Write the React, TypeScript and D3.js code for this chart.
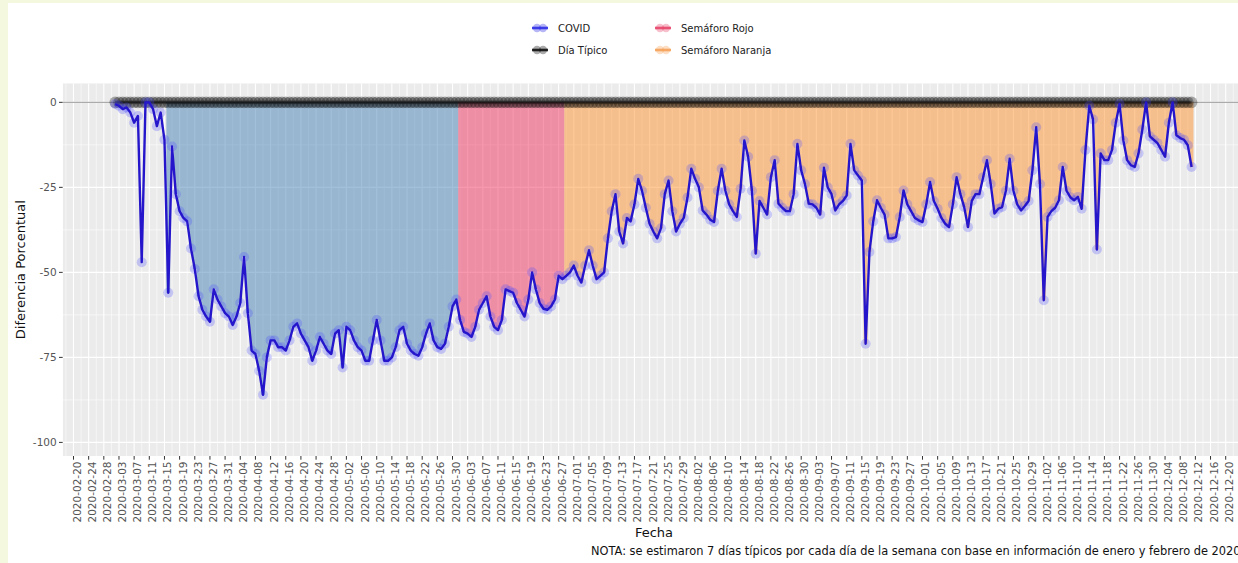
import React from "react";
import * as d3 from "d3";

// ---------- data ----------
const firstDay = "2020-03-02";
// Diferencia porcentual vs. día típico, one value per day from 2020-03-02 to 2020-12-11
const covidValues = [
  -0.5, -1, -2, -1.5, -3, -6, -4, -47, 0, 0,
  -2, -7, -3, -11, -56, -13, -27, -32, -34, -35,
  -43, -49, -57, -61, -63, -64.5, -55, -58, -60, -62,
  -63, -65.5, -63, -59, -45.5, -62, -73, -74, -79, -86,
  -75, -70, -70, -72, -72, -73, -70, -66, -65, -68,
  -70, -72, -76, -73, -69, -71, -73, -74, -68, -67,
  -78, -66, -67, -70, -72, -73, -76, -76, -70, -64,
  -70, -76, -76, -75, -72, -67, -66, -71, -73, -74,
  -74.5, -72, -68, -65, -70, -72, -72.5, -71, -66, -60,
  -58, -64, -67.5, -68, -69, -66, -61, -59, -57, -63,
  -66, -67, -64, -55, -55.5, -56, -59, -61, -63, -58,
  -50, -55, -59, -60.7, -61, -60, -58, -51, -52, -51,
  -50, -48, -51, -53, -48, -43.5, -48, -52, -51, -50,
  -40, -32, -27, -38, -41.5, -34, -35, -30, -22.5, -26,
  -31, -35.7, -38, -40, -37, -27, -23, -32, -38, -35.7,
  -34, -28, -19.5, -22.5, -25, -31.8, -33, -34.5, -35.2, -26,
  -19.5, -26, -30, -32, -33.7, -25.4, -11.2, -16, -26, -44.5,
  -29, -31, -33, -22, -17, -29.8, -31, -32, -32, -27,
  -12.2, -20, -24, -29.8, -30, -31, -33, -19.2, -25, -27,
  -31.8, -30, -29, -27.4, -12.2, -20, -21.5, -23, -71, -44,
  -35, -28.8, -31, -33, -40, -40, -39.6, -33.7, -25.9, -30,
  -32, -34, -34.7, -35.2, -30, -23.4, -29, -31.3, -34, -35.7,
  -36.7, -30, -22, -27, -30.8, -36.7, -29, -27, -27, -22,
  -17, -24, -32.7, -31.3, -30.8, -26, -16.6, -26, -30, -31.8,
  -30.5, -29, -20, -7.3, -24, -58.2, -33.7, -32, -31, -28.8,
  -19, -26, -27.9, -28.8, -27.8, -31.3, -14, -1, -5, -43.3,
  -15, -17, -17, -14, -6, -0.5, -11.2, -17, -18.5, -19,
  -15, -8, 0, -10, -11, -12, -14, -16, -6, 0,
  -9.7, -10.5, -11, -12.6, -19,
];
// Día típico is the reference (0 % difference)
const tipicoValue = 0;

const periodNames = ["Sana Distancia", "Semáforo Rojo", "Semáforo Naranja"];
const periodStarts = ["2020-03-16", "2020-06-01", "2020-06-29"];
const periodColors = ["#4682b4", "#f0325f", "#ff9430"];

const legendLabels = ["COVID", "Día Típico", "Semáforo Rojo", "Semáforo Naranja"];
const legendColors = ["#2f2fe8", "#111111", "#e8456b", "#f5a259"];

const yTicks = [0, -25, -50, -75, -100];
const yMinor = [-12.5, -37.5, -62.5, -87.5];
const xTickFirst = "2020-02-20";
const xTickLast = "2020-12-20";
const xTickStepDays = 4;

const yTitle = "Diferencia Porcentual";
const xTitle = "Fecha";
const note =
  "NOTA: se estimaron 7 días típicos por cada día de la semana con base en información de enero y febrero de 2020.";

// ---------- layout ----------
const W = 1238;
const H = 563;
const FONT = "'DejaVu Sans', sans-serif";

export default function App() {
  const parse = d3.utcParse("%Y-%m-%d");
  const fmt = d3.utcFormat("%Y-%m-%d");
  const start = parse(firstDay)!;
  const dates = covidValues.map((_, i) => d3.utcDay.offset(start, i));
  const data = dates.map((d, i) => ({ date: d, v: covidValues[i] }));

  const x = d3
    .scaleUtc()
    .domain([parse(xTickFirst)!, parse(xTickLast)!])
    .range([73.5, 1225.7]);
  const y = d3.scaleLinear().domain([5.6, -104]).range([83.3, 456]);

  const panelLeft = 62.7;
  const panelRight = 1247;
  const panelTop = y(5.6);
  const panelBottom = y(-104);

  const xTicks = d3.utcDay.range(
    parse(xTickFirst)!,
    d3.utcDay.offset(parse(xTickLast)!, 1),
    xTickStepDays
  );
  const xMinor = d3.utcDay.range(
    d3.utcDay.offset(parse(xTickFirst)!, -2),
    d3.utcDay.offset(parse(xTickLast)!, 3),
    xTickStepDays
  );

  const dayPx = x(d3.utcDay.offset(start, 1)) - x(start);

  const periodStartDates = periodStarts.map((s) => parse(s)!);
  const periodOf = (d: Date) => {
    let p = -1;
    periodStartDates.forEach((s, i) => {
      if (d >= s) p = i;
    });
    return p;
  };

  // step areas per period (each day occupies one day-wide column from 0 to its value)
  const fillArea = d3
    .area<[number, number]>()
    .x((p) => p[0])
    .y0(y(0))
    .y1((p) => y(p[1]));
  const periodPaths = periodNames.map((_, pi) => {
    const pts: [number, number][] = [];
    data.forEach((d) => {
      if (periodOf(d.date) === pi) {
        const cx = x(d.date);
        pts.push([cx - dayPx / 2, Math.min(d.v, 0)]);
        pts.push([cx + dayPx / 2, Math.min(d.v, 0)]);
      }
    });
    return fillArea(pts) || "";
  });

  const line = d3
    .line<{ date: Date; v: number }>()
    .x((d) => x(d.date))
    .y((d) => y(d.v));

  const tipicoLine = d3
    .line<Date>()
    .x((d) => x(d))
    .y(() => y(tipicoValue));

  const legendPos = [
    { kx: 540, ky: 28 },
    { kx: 540, ky: 50 },
    { kx: 663, ky: 28 },
    { kx: 663, ky: 50 },
  ];

  return (
    <div style={{ position: "absolute", left: 0, top: 0, width: W, height: H, overflow: "hidden" }}>
      <svg width={W} height={H} style={{ display: "block" }}>
        <defs>
          <clipPath id="panel">
            <rect x={panelLeft} y={panelTop} width={panelRight - panelLeft} height={panelBottom - panelTop} />
          </clipPath>
        </defs>
        <rect x={0} y={0} width={W} height={H} fill="#f3f8df" />
        <rect x={8} y={3} width={W - 8} height={H - 3} fill="#ffffff" />

        {/* legend */}
        {legendLabels.map((lab, i) => {
          const { kx, ky } = legendPos[i];
          return (
            <g key={lab}>
              <circle cx={kx - 3} cy={ky} r={4.2} fill={legendColors[i]} opacity={0.35} />
              <circle cx={kx + 3} cy={ky} r={4.2} fill={legendColors[i]} opacity={0.35} />
              <line x1={kx - 8} x2={kx + 8} y1={ky} y2={ky} stroke={legendColors[i]} strokeWidth={2.6} opacity={0.9} />
              <text x={kx + 18} y={ky} dominantBaseline="central" fontFamily={FONT} fontSize={10} fill="#222">
                {lab}
              </text>
            </g>
          );
        })}

        {/* panel */}
        <g clipPath="url(#panel)">
          <rect x={panelLeft} y={panelTop} width={panelRight - panelLeft} height={panelBottom - panelTop} fill="#ebebeb" />
          {yMinor.map((t) => (
            <line key={"ym" + t} x1={panelLeft} x2={panelRight} y1={y(t)} y2={y(t)} stroke="#fff" strokeWidth={0.55} />
          ))}
          {xMinor.map((d) => (
            <line key={"xm" + fmt(d)} x1={x(d)} x2={x(d)} y1={panelTop} y2={panelBottom} stroke="#fff" strokeWidth={0.55} />
          ))}
          {yTicks.map((t) => (
            <line key={"yg" + t} x1={panelLeft} x2={panelRight} y1={y(t)} y2={y(t)} stroke="#fff" strokeWidth={1.1} />
          ))}
          {xTicks.map((d) => (
            <line key={"xg" + fmt(d)} x1={x(d)} x2={x(d)} y1={panelTop} y2={panelBottom} stroke="#fff" strokeWidth={1.1} />
          ))}
          <line x1={panelLeft} x2={panelRight} y1={y(0)} y2={y(0)} stroke="#9a9a9a" strokeWidth={1} />

          {/* period fills */}
          {periodPaths.map((p, i) => (
            <path key={periodNames[i]} d={p} fill={periodColors[i]} fillOpacity={0.5} />
          ))}

          {/* día típico */}
          {dates.map((d) => (
            <circle key={"t" + fmt(d)} cx={x(d)} cy={y(tipicoValue)} r={5.8} fill="#000" fillOpacity={0.3} />
          ))}
          <path d={tipicoLine(dates) || ""} fill="none" stroke="#000" strokeOpacity={0.45} strokeWidth={3} />

          {/* covid */}
          {data.map((d) => (
            <circle key={"c" + fmt(d.date)} cx={x(d.date)} cy={y(d.v)} r={5} fill="#4a4aff" fillOpacity={0.26} />
          ))}
          <path d={line(data) || ""} fill="none" stroke="#2516cc" strokeWidth={2.4} strokeLinejoin="round" />
        </g>

        {/* y axis */}
        {yTicks.map((t) => (
          <g key={"yt" + t}>
            <line x1={panelLeft - 3.7} x2={panelLeft} y1={y(t)} y2={y(t)} stroke="#333" strokeWidth={1} />
            <text
              x={panelLeft - 6}
              y={y(t)}
              textAnchor="end"
              dominantBaseline="central"
              fontFamily={FONT}
              fontSize={10.5}
              fill="#555"
            >
              {t}
            </text>
          </g>
        ))}
        <text
          transform={`translate(20,${(panelTop + panelBottom) / 2}) rotate(-90)`}
          textAnchor="middle"
          dominantBaseline="central"
          fontFamily={FONT}
          fontSize={13}
          fill="#111"
        >
          {yTitle}
        </text>

        {/* x axis */}
        {xTicks.map((d) => (
          <g key={"xt" + fmt(d)}>
            <line x1={x(d)} x2={x(d)} y1={panelBottom} y2={panelBottom + 3.7} stroke="#333" strokeWidth={1} />
            <text
              transform={`translate(${x(d) + 3},${panelBottom + 5.5}) rotate(-90)`}
              textAnchor="end"
              dominantBaseline="central"
              fontFamily={FONT}
              fontSize={10.5}
              fill="#555"
            >
              {fmt(d)}
            </text>
          </g>
        ))}
        <text x={654} y={537} textAnchor="middle" fontFamily={FONT} fontSize={13} fill="#111">
          {xTitle}
        </text>
        <text x={591} y={555} fontFamily={FONT} fontSize={11.4} fill="#111">
          {note}
        </text>
      </svg>
    </div>
  );
}
